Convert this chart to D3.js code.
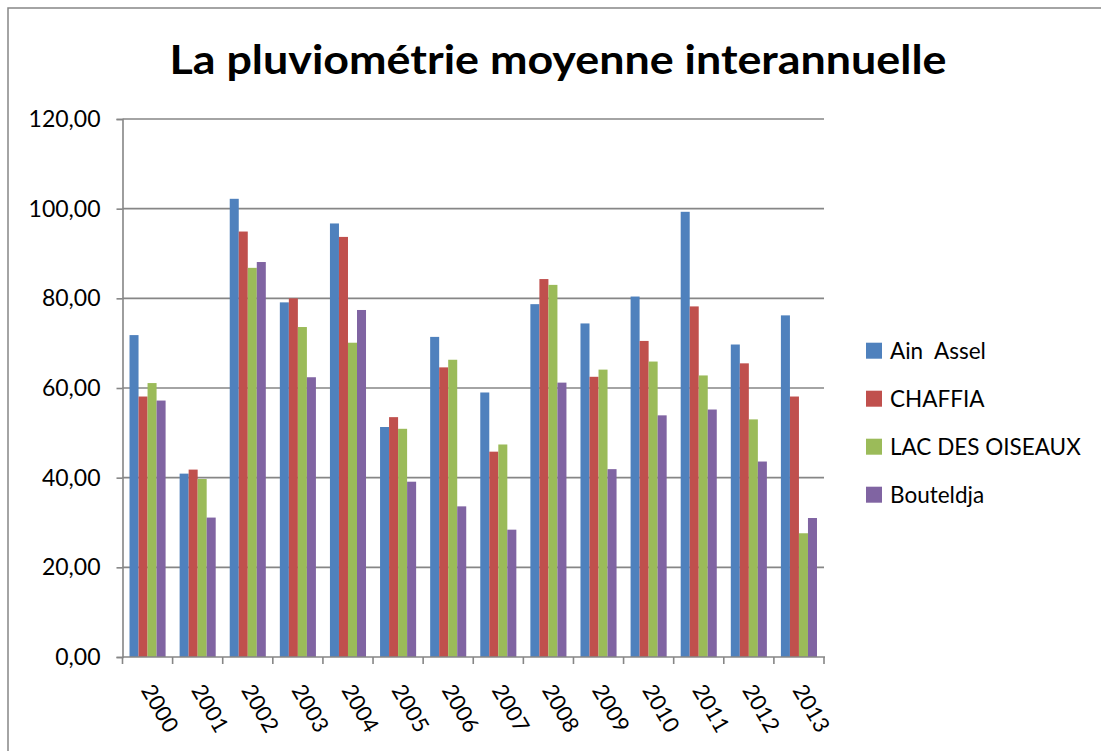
<!DOCTYPE html>
<html><head><meta charset="utf-8">
<script src="https://cdn.jsdelivr.net/npm/d3@7"></script>
<style>body{margin:0;background:#fff}svg{display:block}</style>
</head><body>
<script>
const years = ["2000","2001","2002","2003","2004","2005","2006","2007","2008","2009","2010","2011","2012","2013"];
const seriesNames = ["Ain  Assel","CHAFFIA","LAC DES OISEAUX","Bouteldja"];
const ainAssel  = [71.8,40.9,102.2,79.1,96.7,51.3,71.4,59.0,78.7,74.4,80.4,99.3,69.7,76.2];
const chaffia   = [58.1,41.8,94.9,80.0,93.7,53.5,64.6,45.8,84.3,62.5,70.5,78.2,65.5,58.1];
const lacOiseaux= [61.1,39.7,86.8,73.6,70.1,50.9,66.3,47.4,83.0,64.1,65.9,62.8,53.0,27.6];
const bouteldja = [57.2,31.1,88.1,62.4,77.4,39.1,33.6,28.4,61.2,41.9,53.9,55.2,43.6,31.0];
const yTicks = [0,20,40,60,80,100,120];
const colors = ["#4F81BD","#C0504D","#9BBB59","#8064A2"];
const allSeries = [ainAssel, chaffia, lacOiseaux, bouteldja];

(function(){
const W = 1101, H = 751;
const svg = d3.select("body").append("svg").attr("width", W).attr("height", H);
const font = "Lato, 'Open Sans', sans-serif";

svg.append("rect").attr("x", 8).attr("y", 8).attr("width", W + 20).attr("height", H + 20)
  .attr("fill", "#fff").attr("stroke", "#868686").attr("stroke-width", 1.5);

const pL = 122.5, pR = 824, pT = 119, pB = 657;
const x = d3.scaleBand().domain(years).range([pL, pR]).paddingInner(0.28).paddingOuter(0.14);
const xs = d3.scaleBand().domain(d3.range(4)).range([0, x.bandwidth()]);
const y = d3.scaleLinear().domain([0, 120]).range([pB, pT]);

svg.append("g").selectAll("line").data(yTicks.filter(d => d > 0)).join("line")
  .attr("x1", pL).attr("x2", pR).attr("y1", d => y(d)).attr("y2", d => y(d))
  .attr("stroke", "#868686").attr("stroke-width", 1.6);

const groups = svg.append("g").selectAll("g").data(years).join("g")
  .attr("transform", d => `translate(${x(d)},0)`);
groups.selectAll("rect").data((d, i) => allSeries.map((s, k) => ({k, v: s[i]}))).join("rect")
  .attr("x", d => xs(d.k)).attr("width", xs.bandwidth())
  .attr("y", d => y(d.v)).attr("height", d => pB - y(d.v))
  .attr("fill", d => colors[d.k]);

const yAxis = d3.axisLeft(y).tickValues(yTicks).tickSize(6).tickPadding(16)
  .tickFormat(d => d3.format(".2f")(d).replace(".", ","));
const gy = svg.append("g").attr("transform", `translate(${pL},0)`).call(yAxis);
gy.select(".domain").attr("stroke", "#868686").attr("stroke-width", 1.6);
gy.selectAll(".tick line").attr("stroke", "#868686").attr("stroke-width", 1.6);
gy.selectAll("text").attr("font-family", font).attr("font-size", 23).attr("fill", "#000");

const step = x.step();
const gx = svg.append("g");
gx.append("line").attr("x1", pL).attr("x2", pR + 1).attr("y1", pB).attr("y2", pB)
  .attr("stroke", "#868686").attr("stroke-width", 1.6);
gx.selectAll("line.t").data(d3.range(years.length + 1)).join("line").attr("class", "t")
  .attr("x1", i => pL + i * step).attr("x2", i => pL + i * step)
  .attr("y1", pB).attr("y2", pB + 7)
  .attr("stroke", "#868686").attr("stroke-width", 1.6);
gx.selectAll("text").data(years).join("text")
  .attr("transform", d => `translate(${x(d) + x.bandwidth() / 2 - 7},${pB + 33}) rotate(60)`)
  .attr("font-family", font).attr("font-size", 22).attr("fill", "#000")
  .text(d => d);

svg.append("text").attr("x", 558).attr("y", 74).attr("text-anchor", "middle")
  .attr("font-family", font).attr("font-weight", "bold").attr("font-size", 40).attr("fill", "#000")
  .attr("textLength", 777).attr("lengthAdjust", "spacingAndGlyphs")
  .text("La pluviométrie moyenne interannuelle");

const lg = svg.append("g").selectAll("g").data(seriesNames).join("g")
  .attr("transform", (d, i) => `translate(866,${342.7 + i * 48})`);
lg.append("rect").attr("width", 16).attr("height", 16).attr("fill", (d, i) => colors[i]);
lg.append("text").attr("x", 24).attr("y", 16).attr("font-family", font).attr("font-size", 22.5)
  .attr("fill", "#000").style("white-space", "pre").text(d => d);
})();
</script>
</body></html>
